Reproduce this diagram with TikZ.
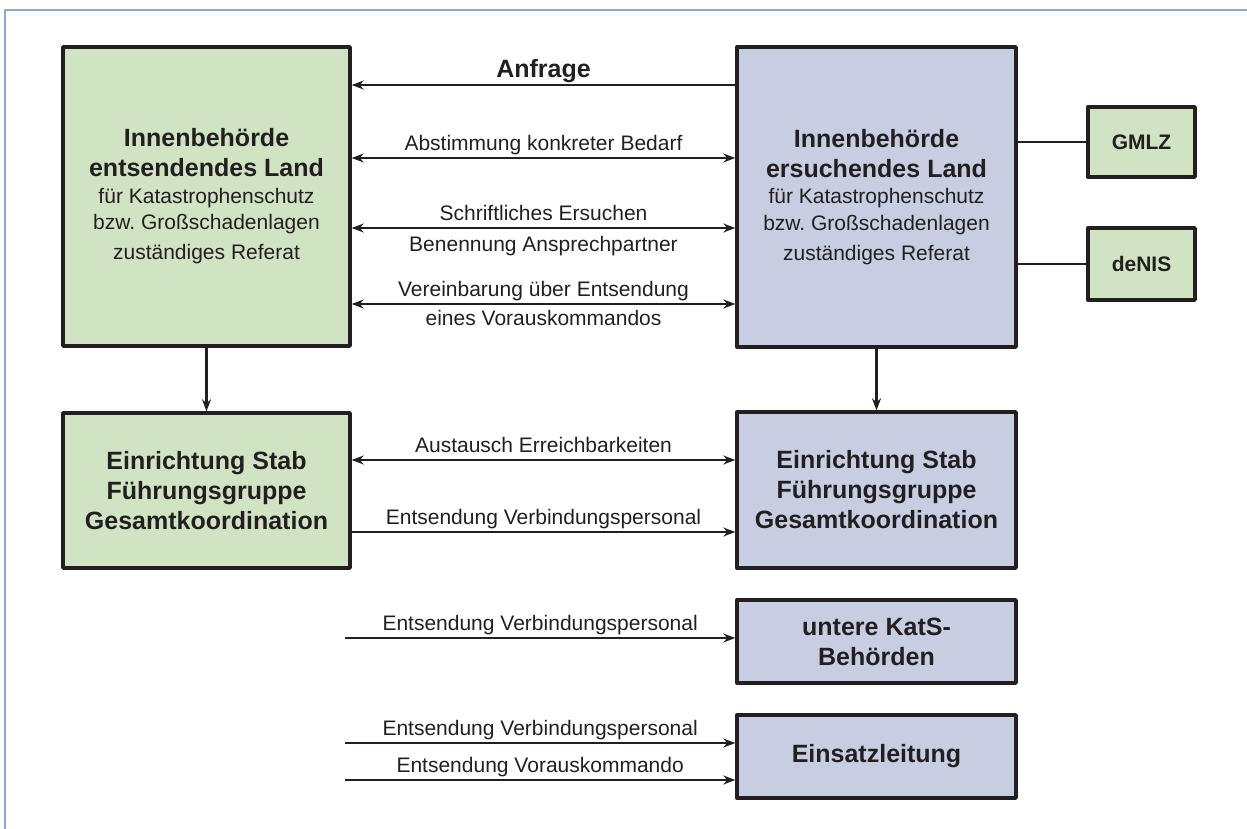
\documentclass[tikz,border=0pt]{standalone}
\usepackage{fontspec}
\setmainfont{Liberation Sans}
\usetikzlibrary{arrows.meta}
\definecolor{rahmen}{HTML}{8FA6CB}
\definecolor{gruen}{HTML}{D0E4C4}
\definecolor{blau}{HTML}{C7CEE1}
\definecolor{tinte}{HTML}{231F20}
\newcommand{\festsp}{\spaceskip=.28em\xspaceskip=.28em\relax}
\newcommand{\gross}{\fontsize{25}{30}\selectfont\bfseries\festsp}
\newcommand{\mittel}{\fontsize{21}{26}\selectfont\bfseries\festsp}
\newcommand{\klein}{\fontsize{21}{26.5}\selectfont\mdseries\festsp}

\begin{document}
\begin{tikzpicture}[x=1pt, y=-1pt, line join=round, >={Stealth[length=12pt,width=9pt,inset=4pt]},
	box/.style={draw=tinte, line width=3.4pt, align=center, text=tinte, inner sep=0pt, font=\gross},
	gbox/.style={box, fill=gruen},
	bbox/.style={box, fill=blau},
	pfeil/.style={draw=tinte, line width=2.3pt},
	lbl/.style={font=\klein, text=tinte, text height=15pt, text depth=4pt, inner sep=2pt}]
	\useasboundingbox (0,0) rectangle (1247,829);
	\draw[rahmen, line width=2.5pt] (1247,10)--(5,10)--(5,829);
	% Kaesten
	\path
	(206.5,196.5) node[gbox, text width=287pt, minimum height=299pt] (entsLand)
		{\gross Innenbehörde\\ entsendendes Land\\ \klein für Katastrophenschutz\\ bzw. Großschadenlagen\\ zuständiges Referat}
	(876.5,197) node[bbox, text width=279pt, minimum height=300pt] (ersLand)
		{\gross Innenbehörde\\ ersuchendes Land\\ \klein für Katastrophenschutz\\ bzw. Großschadenlagen\\ zuständiges Referat}
	(1141.5,142) node[gbox, text width=107pt, minimum height=70pt, font=\mittel] (gmlz) {\mittel GMLZ}
	(1141.5,264) node[gbox, text width=107pt, minimum height=72pt, font=\mittel] (denis) {\mittel deNIS}
	(206.5,490.5) node[gbox, text width=287pt, minimum height=155pt] (stabLinks)
		{\gross Einrichtung Stab\\ Führungsgruppe\\ Gesamtkoordination}
	(876.5,490) node[bbox, text width=279pt, minimum height=156pt] (stabRechts)
		{\gross Einrichtung Stab\\ Führungsgruppe\\ Gesamtkoordination}
	(876.5,641.5) node[bbox, text width=279pt, minimum height=83pt] (kats)
		{\gross untere KatS-\\ Behörden}
	(876.5,756.5) node[bbox, text width=279pt, minimum height=83pt] (einsatz)
		{\gross Einsatzleitung}
	;
	\coordinate (vp1) at (345,638);
	\coordinate (vp2) at (345,743);
	\coordinate (vk) at (345,780);
	% Verbindungen oben
	\draw[pfeil,<-] (entsLand.east |- 0,85) -- node[lbl,above,font=\gross,text height=18pt]{Anfrage} (ersLand.west |- 0,85);
	\draw[pfeil,<->] (entsLand.east |- 0,158) -- node[lbl,above]{Abstimmung konkreter Bedarf} (ersLand.west |- 0,158);
	\draw[pfeil,<->] (entsLand.east |- 0,228) -- node[lbl,above]{Schriftliches Ersuchen}
		node[lbl,below=5pt]{Benennung Ansprechpartner} (ersLand.west |- 0,228);
	\draw[pfeil,<->] (entsLand.east |- 0,304) -- node[lbl,above]{Vereinbarung über Entsendung}
		node[lbl,below=3pt]{eines Vorauskommandos} (ersLand.west |- 0,304);
	\draw[pfeil] (gmlz.west -| ersLand.east) -- (gmlz.west);
	\draw[pfeil] (denis.west -| ersLand.east) -- (denis.west);
	\draw[pfeil,->] (entsLand) -- (stabLinks);
	\draw[pfeil,->] (ersLand) -- (stabRechts);
	% Verbindungen unten
	\draw[pfeil,<->] (stabLinks.east |- 0,460) -- node[lbl,above]{Austausch Erreichbarkeiten} (stabRechts.west |- 0,460);
	\draw[pfeil,->] (stabLinks.east |- 0,532) -- node[lbl,above]{Entsendung Verbindungspersonal} (stabRechts.west |- 0,532);
	\draw[pfeil,->] (vp1) -- node[lbl,above]{Entsendung Verbindungspersonal} (vp1 -| kats.west);
	\draw[pfeil,->] (vp2) -- node[lbl,above]{Entsendung Verbindungspersonal} (vp2 -| einsatz.west);
	\draw[pfeil,->] (vk) -- node[lbl,above]{Entsendung Vorauskommando} (vk -| einsatz.west);
\end{tikzpicture}
\end{document}
